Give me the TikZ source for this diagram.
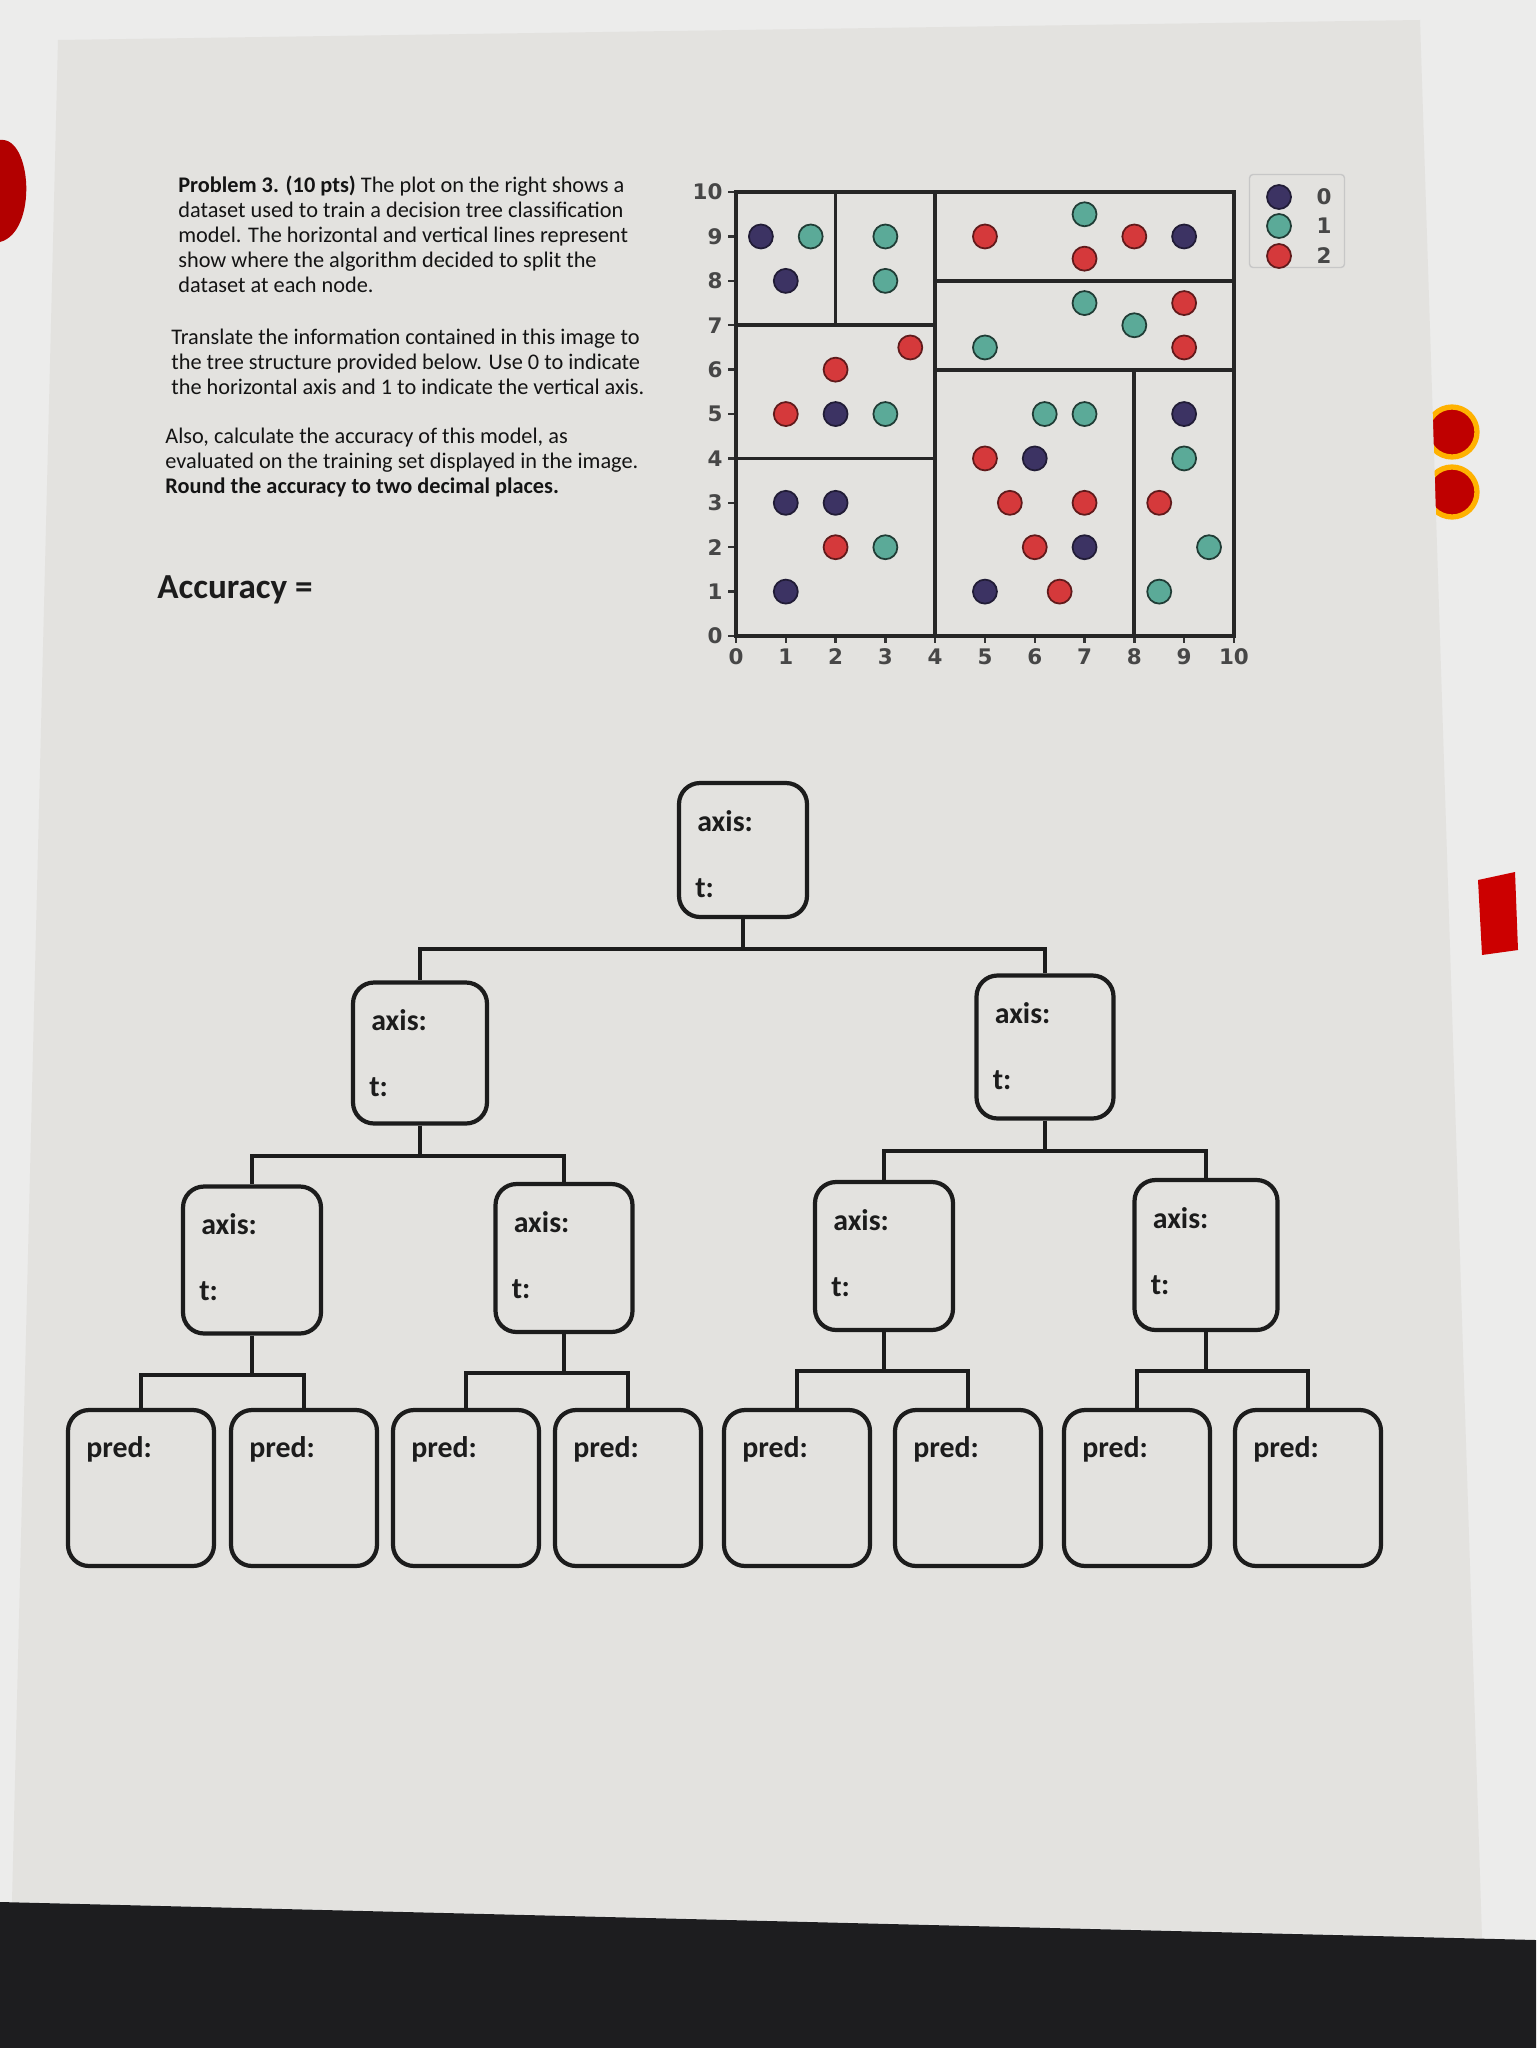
\documentclass[tikz,border=0pt]{standalone}
\usepackage{fontspec}
\setmainfont{Carlito}
\newfontfamily\tickfont{DejaVu Sans}

\definecolor{hinter}{HTML}{ECECEB}
\definecolor{papier}{HTML}{E3E2DF}
\definecolor{tisch}{HTML}{1D1D1F}
\definecolor{tinte}{HTML}{1C1C1C}
\definecolor{klasseA}{HTML}{3C3363}
\definecolor{klasseB}{HTML}{5BAA98}
\definecolor{klasseC}{HTML}{D5393B}

\tikzset{
  splitbox/.style={draw=tinte, line width=2.4pt, rounded corners=0.42cm, inner sep=0pt},
  predbox/.style={splitbox, minimum width=2.92cm, minimum height=3.12cm},
  boxtext/.style={font=\fontsize{17pt}{20pt}\selectfont\bfseries, text=tinte, inner sep=0pt, anchor=west},
  edge/.style={draw=tinte, line width=2.2pt},
  region/.style={draw=black!85, line width=2.1pt},
  tickmark/.style={draw=black!80, line width=1.4pt},
  ticklabel/.style={font=\tickfont\bfseries\fontsize{12.2pt}{14pt}\selectfont, text=black!72, inner sep=2.5pt},
  bodytext/.style={font=\fontsize{12.7pt}{14.1pt}\selectfont, text=black!92, inner sep=0pt, anchor=north west, align=left},
  punktA/.style={fill=klasseA, draw=klasseA!55!black, line width=1pt},
  punktB/.style={fill=klasseB, draw=klasseB!35!black, line width=1pt},
  punktC/.style={fill=klasseC, draw=klasseC!45!black, line width=1pt},
}

\begin{document}
\begin{tikzpicture}[x=0.02cm, y=-0.02cm]

  % Hintergrund, Blatt, Tisch
  \useasboundingbox (0,0) rectangle (1536,2048);
  \fill[hinter] (0,0) rectangle (1536,2048);
  \fill[red!70!black] (0,140) .. controls (32,136) and (38,232) .. (0,242) -- cycle;
  \fill[red!80!black] (1478,880) -- (1515,872) -- (1518,950) -- (1482,955) -- cycle;
  \filldraw[fill=red!75!black, draw=orange!60!yellow, line width=3pt] (1452,432) circle (0.5cm);
  \filldraw[fill=red!75!black, draw=orange!60!yellow, line width=3pt] (1452,492) circle (0.5cm);
  \fill[papier] (58,40) -- (1420,20) -- (1482,1938) -- (12,1902) -- cycle;
  \fill[tisch] (0,1902) -- (1536,1940) -- (1536,2048) -- (0,2048) -- cycle;

  % Aufgabentext
  \node[bodytext] (aufgabe) at (178,176) {\textbf{Problem 3. (10 pts)} The plot on the right shows a\\
    dataset used to train a decision tree classification\\
    model. The horizontal and vertical lines represent\\
    show where the algorithm decided to split the\\
    dataset at each node.};
  \node[bodytext] (anleitung) at (171,329) {Translate the information contained in this image to\\
    the tree structure provided below. Use 0 to indicate\\
    the horizontal axis and 1 to indicate the vertical axis.};
  \node[bodytext] (zusatz) at (165,428) {Also, calculate the accuracy of this model, as\\
    evaluated on the training set displayed in the image.\\
    \textbf{Round the accuracy to two decimal places.}};
  \node[font=\fontsize{20pt}{24pt}\selectfont\bfseries, text=tinte, anchor=west, inner sep=0pt]
    (accuracy) at (157,590) {Accuracy =};

  % Streudiagramm mit Splits
  \begin{scope}[shift={(736,636)}, x=0.996cm, y=0.888cm]
    % Ticks und Beschriftung
    \foreach \i in {0,...,10} {
        \draw[tickmark] (\i,0) -- (\i,-0.16) node[ticklabel, below] (xt\i) {\i};
        \draw[tickmark] (0,\i) -- (-0.16,\i) node[ticklabel, left] (yt\i) {\i};
      }
    % Rahmen
    \draw[region] (0,0) rectangle (10,10);
    % Splits links (x < 4)
    \draw[region] (4,0) -- (4,10);
    \draw[region] (0,4) -- (4,4);
    \draw[region] (0,7) -- (4,7);
    \draw[region] (2,7) -- (2,10);
    % Splits rechts (x > 4)
    \draw[region] (4,6) -- (10,6);
    \draw[region] (4,8) -- (10,8);
    \draw[region] (8,0) -- (8,6);
    % Klasse 0
    \foreach \x/\y in {0.5/9, 1/8, 2/5, 1/3, 2/3, 1/1, 9/9, 6/4, 7/2, 5/1, 9/5}
    \filldraw[punktA] (\x,\y) circle (0.24cm);
    % Klasse 1
    \foreach \x/\y in {1.5/9, 3/9, 3/8, 3/5, 3/2, 7/9.5, 7/7.5, 8/7, 5/6.5, 6.2/5, 7/5, 9/4, 9.5/2, 8.5/1}
    \filldraw[punktB] (\x,\y) circle (0.24cm);
    % Klasse 2
    \foreach \x/\y in {3.5/6.5, 2/6, 1/5, 2/2, 5/9, 8/9, 7/8.5, 9/7.5, 9/6.5, 5/4, 5.5/3, 7/3, 6/2, 6.5/1, 8.5/3}
    \filldraw[punktC] (\x,\y) circle (0.24cm);
  \end{scope}

  % Legende
  \node[draw=black!22, line width=0.8pt, rounded corners=2pt, minimum width=1.9cm, minimum height=1.86cm]
    (legende) at (1297,221) {};
  \foreach \k/\y/\st in {0/197/punktA, 1/226/punktB, 2/256/punktC} {
      \filldraw[\st] (1279,\y) circle (0.24cm);
      \node[ticklabel] (leg\k) at (1324,\y) {\k};
    }

  % Baum: Knoten mit axis / t
  \foreach \n/\x/\y/\w/\h in {root/743/850/2.56/2.68, l/420/1053/2.68/2.82, r/1045/1047/2.74/2.86,
      ll/252/1260/2.76/2.94, lr/564/1258/2.74/2.96, rl/884/1256/2.76/2.96, rr/1206/1255/2.86/3.0} {
      \node[splitbox, minimum width=\w cm, minimum height=\h cm] (\n) at (\x,\y) {};
      \node[boxtext] (\n-axis) at ([xshift=0.4cm, yshift=-0.8cm]\n.north west) {axis:};
      \node[boxtext] (\n-t) at ([xshift=0.36cm, yshift=-2.14cm]\n.north west) {t:};
    }

  % Blaetter mit pred
  \foreach \n/\x in {p1/141, p2/304, p3/466, p4/628, p5/797, p6/968, p7/1137, p8/1308} {
      \node[predbox] (\n) at (\x,1488) {};
      \node[boxtext] (\n-pred) at ([xshift=0.4cm, yshift=-0.82cm]\n.north west) {pred:};
    }

  % Verbindungen
  \foreach \a/\b in {root/l, root/r, l/ll, l/lr, r/rl, r/rr}
  \draw[edge] (\a.south) -- ++(0,30) -| (\b.north);
  \foreach \a/\b in {ll/p1, ll/p2, lr/p3, lr/p4, rl/p5, rl/p6, rr/p7, rr/p8}
  \draw[edge] (\a.south) -- ++(0,39) -| (\b.north);

\end{tikzpicture}
\end{document}
